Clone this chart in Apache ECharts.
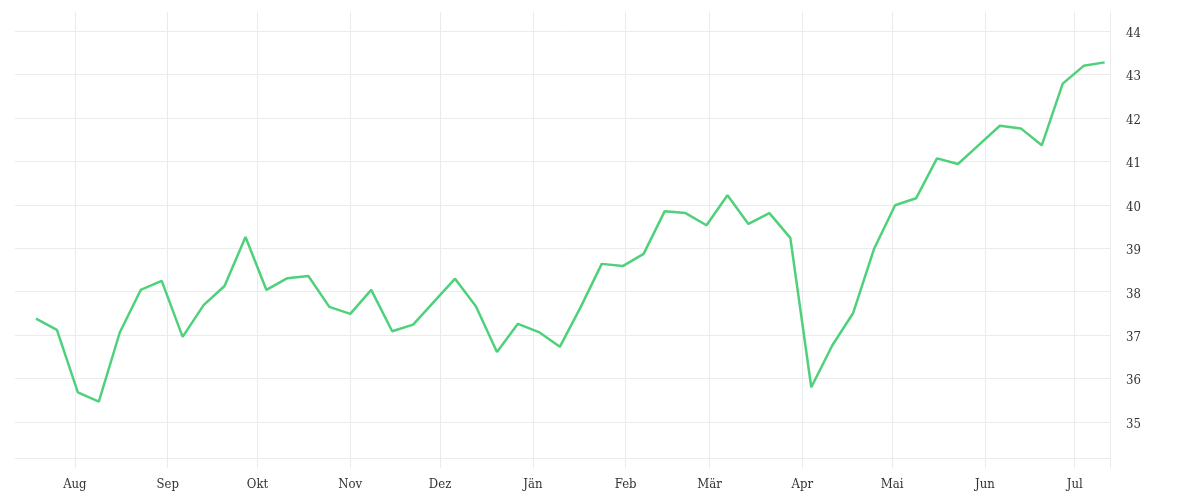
<!DOCTYPE html>
<html>
<head>
<meta charset="utf-8">
<script src="https://cdn.jsdelivr.net/npm/echarts@6/dist/echarts.min.js"></script>
<style>html,body{margin:0;padding:0;background:#fff}#c{width:1200px;height:500px}</style>
</head>
<body>
<div id="c"></div>
<script>
const dates = [
  '2022-07-19','2022-07-26','2022-08-02','2022-08-09','2022-08-16','2022-08-23','2022-08-30',
  '2022-09-06','2022-09-13','2022-09-20','2022-09-27','2022-10-04','2022-10-11','2022-10-18','2022-10-25',
  '2022-11-01','2022-11-08','2022-11-15','2022-11-22','2022-11-29','2022-12-06','2022-12-13','2022-12-20','2022-12-27',
  '2023-01-03','2023-01-10','2023-01-17','2023-01-24','2023-01-31','2023-02-07','2023-02-14','2023-02-21','2023-02-28',
  '2023-03-07','2023-03-14','2023-03-21','2023-03-28','2023-04-04','2023-04-11','2023-04-18','2023-04-25',
  '2023-05-02','2023-05-09','2023-05-16','2023-05-23','2023-05-30','2023-06-06','2023-06-13','2023-06-20','2023-06-27',
  '2023-07-04','2023-07-11'
];
const values = [
  37.38, 37.12, 35.68, 35.47, 37.06, 38.04, 38.25, 36.96, 37.69, 38.13,
  39.26, 38.04, 38.31, 38.36, 37.65, 37.49, 38.04, 37.09, 37.24, 37.77,
  38.30, 37.66, 36.61, 37.26, 37.07, 36.73, 37.65, 38.64, 38.59, 38.87,
  39.85, 39.81, 39.53, 40.22, 39.56, 39.81, 39.24, 35.80, 36.76, 37.51,
  38.99, 39.99, 40.15, 41.07, 40.94, 41.38, 41.82, 41.76, 41.37, 42.79,
  43.20, 43.28
];
const monthStarts = ['2022-08-01','2022-09-01','2022-10-01','2022-11-01','2022-12-01','2023-01-01',
  '2023-02-01','2023-03-01','2023-04-01','2023-05-01','2023-06-01','2023-07-01'];
const monthLabels = ['Aug','Sep','Okt','Nov','Dez','Jän','Feb','Mär','Apr','Mai','Jun','Jul'];
const yTicks = [35, 36, 37, 38, 39, 40, 41, 42, 43, 44];
const xStart = '2022-07-12';
const xEnd = '2023-07-12T19:00';
const yMin = 34.17, yMax = 44.44;

function ts(s) {
  const parts = s.split('T');
  const d = parts[0].split('-').map(Number);
  let h = 0, mi = 0;
  if (parts[1]) { const t = parts[1].split(':').map(Number); h = t[0]; mi = t[1]; }
  return new Date(d[0], d[1] - 1, d[2], h, mi).getTime();
}
const monthTs = monthStarts.map(ts);
const xMinTs = ts(xStart), xMaxTs = ts(xEnd);

const gridColor = '#ebebeb';
const textStyle = { color: '#333', fontFamily: "'DejaVu Serif Condensed', 'DejaVu Serif', serif", fontSize: 13 };

const chart = echarts.init(document.getElementById('c'), null, { renderer: 'canvas' });
chart.setOption({
  animation: false,
  backgroundColor: '#fff',
  grid: { left: 15, right: 90, top: 12, bottom: 42, containLabel: false },
  xAxis: {
    type: 'value',
    min: xMinTs,
    max: xMaxTs,
    axisLine: { show: true, lineStyle: { color: gridColor, width: 1 } },
    axisTick: { show: true, length: 10, lineStyle: { color: gridColor }, customValues: monthTs.concat([xMaxTs]) },
    splitLine: { show: true, lineStyle: { color: gridColor, width: 1 } },
    axisLabel: Object.assign({
      customValues: monthTs,
      margin: 20,
      showMinLabel: true,
      showMaxLabel: true,
      formatter: function (v) {
        const i = monthTs.indexOf(v);
        return i >= 0 ? monthLabels[i] : '';
      }
    }, textStyle)
  },
  yAxis: {
    type: 'value',
    position: 'right',
    min: yMin,
    max: yMax,
    axisLine: { show: true, lineStyle: { color: gridColor, width: 1 } },
    axisTick: { show: false, customValues: yTicks },
    splitLine: { show: true, lineStyle: { color: gridColor, width: 1 } },
    axisLabel: Object.assign({ customValues: yTicks, margin: 16, verticalAlign: 'top', lineHeight: 5 }, textStyle)
  },
  series: [{
    type: 'line',
    data: dates.map((d, i) => [ts(d), values[i]]),
    showSymbol: false,
    symbol: 'none',
    lineStyle: { color: '#4fd17b', width: 2.5 },
    itemStyle: { color: '#4fd17b' }
  }]
});
</script>
</body>
</html>
